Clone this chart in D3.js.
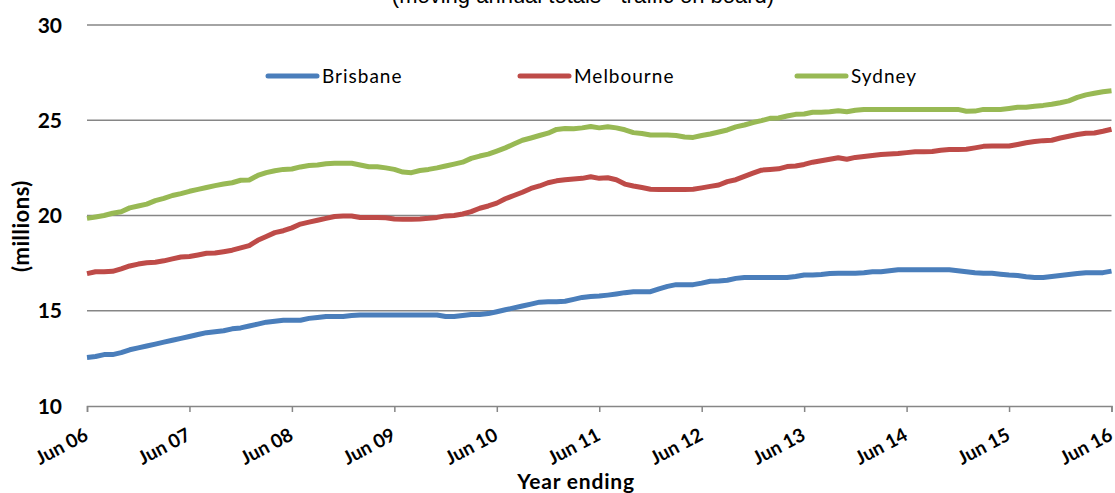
<!DOCTYPE html>
<html>
<head>
<meta charset="utf-8">
<script src="https://cdn.jsdelivr.net/npm/d3@7"></script>
<style>
  html, body { margin: 0; padding: 0; background: #fff; }
  svg { display: block; }
</style>
</head>
<body>
<svg id="chart" width="1115" height="493"></svg>
<script>
// ---- data (monthly moving annual totals, millions) ----
const tickLabels = ["Jun 06","Jun 07","Jun 08","Jun 09","Jun 10","Jun 11","Jun 12","Jun 13","Jun 14","Jun 15","Jun 16"];
const seriesNames = ["Brisbane", "Melbourne", "Sydney"];
const yTicks = [10, 15, 20, 25, 30];

const brisbane = [
  12.55,12.6,12.7,12.7,12.8,12.95,13.05,13.15,13.25,13.35,13.45,13.55,
  13.65,13.75,13.85,13.9,13.95,14.05,14.1,14.2,14.3,14.4,14.45,14.5,
  14.5,14.5,14.6,14.65,14.7,14.7,14.7,14.75,14.78,14.78,14.78,14.78,
  14.78,14.78,14.78,14.78,14.78,14.78,14.7,14.7,14.75,14.8,14.8,14.85,
  14.95,15.05,15.15,15.25,15.35,15.45,15.47,15.47,15.5,15.6,15.7,15.75,
  15.77,15.82,15.88,15.95,16.0,16.0,16.0,16.15,16.28,16.37,16.37,16.37,
  16.45,16.55,16.56,16.6,16.7,16.75,16.75,16.75,16.75,16.75,16.75,16.8,
  16.88,16.88,16.9,16.95,16.97,16.97,16.97,17.0,17.05,17.05,17.1,17.15,
  17.15,17.15,17.15,17.15,17.15,17.15,17.1,17.05,17.0,16.97,16.97,16.92,
  16.88,16.85,16.78,16.75,16.75,16.8,16.85,16.9,16.95,17.0,17.0,17.0,
  17.08
];
const melbourne = [
  16.95,17.05,17.05,17.07,17.2,17.35,17.45,17.52,17.55,17.62,17.72,17.82,
  17.85,17.93,18.02,18.03,18.1,18.18,18.3,18.42,18.7,18.9,19.1,19.2,
  19.35,19.55,19.65,19.75,19.85,19.95,19.98,19.97,19.9,19.89,19.89,19.88,
  19.82,19.8,19.8,19.82,19.85,19.9,19.98,20.0,20.08,20.2,20.38,20.5,
  20.65,20.88,21.05,21.22,21.42,21.55,21.72,21.82,21.88,21.92,21.95,22.03,
  21.95,21.98,21.88,21.65,21.55,21.47,21.38,21.37,21.37,21.37,21.37,21.38,
  21.45,21.53,21.6,21.78,21.88,22.05,22.22,22.38,22.42,22.45,22.57,22.6,
  22.68,22.8,22.87,22.95,23.03,22.95,23.05,23.1,23.15,23.2,23.23,23.25,
  23.3,23.35,23.35,23.36,23.43,23.47,23.47,23.48,23.55,23.63,23.65,23.65,
  23.65,23.73,23.82,23.88,23.93,23.95,24.07,24.16,24.25,24.32,24.33,24.42,
  24.53
];
const sydney = [
  19.85,19.92,20.0,20.12,20.2,20.4,20.5,20.6,20.78,20.9,21.05,21.15,
  21.27,21.37,21.47,21.57,21.65,21.72,21.85,21.86,22.1,22.25,22.35,22.42,
  22.44,22.55,22.62,22.65,22.72,22.74,22.74,22.74,22.65,22.56,22.56,22.5,
  22.42,22.28,22.25,22.36,22.42,22.5,22.6,22.7,22.8,23.0,23.12,23.22,
  23.38,23.55,23.75,23.95,24.07,24.2,24.32,24.52,24.57,24.55,24.6,24.67,
  24.6,24.66,24.6,24.5,24.35,24.3,24.23,24.23,24.23,24.2,24.12,24.1,
  24.2,24.28,24.38,24.49,24.65,24.75,24.88,24.98,25.1,25.12,25.22,25.31,
  25.33,25.42,25.42,25.45,25.5,25.45,25.52,25.57,25.57,25.57,25.57,25.57,
  25.57,25.57,25.57,25.57,25.57,25.57,25.57,25.47,25.48,25.57,25.57,25.57,
  25.62,25.68,25.68,25.74,25.78,25.84,25.92,26.02,26.2,26.33,26.42,26.5,
  26.55
];
const seriesValues = [brisbane, melbourne, sydney];
const colors = ["#4A7EBB", "#BE4B48", "#98B954"];

// ---- layout ----
const svg = d3.select("#chart");
const plotLeft = 87, plotRight = 1111.5, plotTop = 25, plotBottom = 406;

const x = d3.scaleLinear().domain([0, 120]).range([plotLeft, plotRight]);
const y = d3.scaleLinear().domain([10, 30]).range([plotBottom, plotTop]);

const labelFont = "Lato, 'Open Sans', 'DejaVu Sans', sans-serif";

// title (partially cut at the top, as in the source)
svg.append("text")
  .attr("x", 583).attr("y", 3)
  .attr("text-anchor", "middle")
  .attr("font-family", "'Liberation Sans', Arial, sans-serif")
  .attr("font-size", 22)
  .attr("fill", "#000")
  .text("(moving annual totals - traffic on board)");

// gridlines
svg.append("g").selectAll("line")
  .data(yTicks.filter(d => d > 10))
  .join("line")
  .attr("x1", plotLeft).attr("x2", plotRight)
  .attr("y1", d => y(d)).attr("y2", d => y(d))
  .attr("stroke", "#868686").attr("stroke-width", 1.5);

// y axis labels
svg.append("g").selectAll("text")
  .data(yTicks)
  .join("text")
  .attr("x", 62).attr("y", d => y(d))
  .attr("dy", "0.36em")
  .attr("text-anchor", "end")
  .attr("font-family", labelFont)
  .attr("font-weight", "bold")
  .attr("font-size", 21)
  .attr("fill", "#000")
  .text(d => d);

// x axis
const xAxis = d3.axisBottom(x)
  .tickValues(d3.range(0, 121, 12))
  .tickSize(6)
  .tickFormat((d, i) => tickLabels[i]);
const gx = svg.append("g")
  .attr("transform", `translate(0,${plotBottom})`)
  .call(xAxis);
gx.select(".domain").attr("stroke", "#868686").attr("stroke-width", 1.5);
gx.selectAll(".tick line").attr("stroke", "#868686").attr("stroke-width", 1.5);
gx.selectAll(".tick text")
  .attr("font-family", labelFont)
  .attr("font-weight", "bold")
  .attr("font-size", 19)
  .attr("fill", "#000")
  .attr("text-anchor", "end")
  .attr("dy", 0)
  .attr("y", 0)
  .attr("transform", "translate(2,33) rotate(-28)");

// axis titles
svg.append("text")
  .attr("transform", "translate(29,226) rotate(-90)")
  .attr("text-anchor", "middle")
  .attr("font-family", labelFont)
  .attr("font-weight", "bold")
  .attr("font-size", 22)
  .attr("letter-spacing", 0.5)
  .attr("fill", "#000")
  .text("(millions)");

svg.append("text")
  .attr("x", 576).attr("y", 489)
  .attr("text-anchor", "middle")
  .attr("font-family", labelFont)
  .attr("font-weight", "bold")
  .attr("font-size", 21)
  .attr("letter-spacing", 0.8)
  .attr("fill", "#000")
  .text("Year ending");

// lines
const line = d3.line().x((d, i) => x(i)).y(d => y(d));
svg.append("g").selectAll("path")
  .data(seriesValues)
  .join("path")
  .attr("d", d => line(d))
  .attr("fill", "none")
  .attr("stroke", (d, i) => colors[i])
  .attr("stroke-width", 5)
  .attr("stroke-linejoin", "round");

// legend
const legendX = [268, 520, 797];
const lg = svg.append("g").selectAll("g")
  .data(seriesNames)
  .join("g")
  .attr("transform", (d, i) => `translate(${legendX[i]},76)`);
lg.append("line")
  .attr("x1", 0).attr("x2", 49)
  .attr("stroke", (d, i) => colors[i])
  .attr("stroke-width", 5)
  .attr("stroke-linecap", "round");
lg.append("text")
  .attr("x", 54).attr("dy", "0.36em")
  .attr("font-family", labelFont)
  .attr("font-size", 19)
  .attr("letter-spacing", 1)
  .attr("fill", "#000")
  .text(d => d);
</script>
</body>
</html>
